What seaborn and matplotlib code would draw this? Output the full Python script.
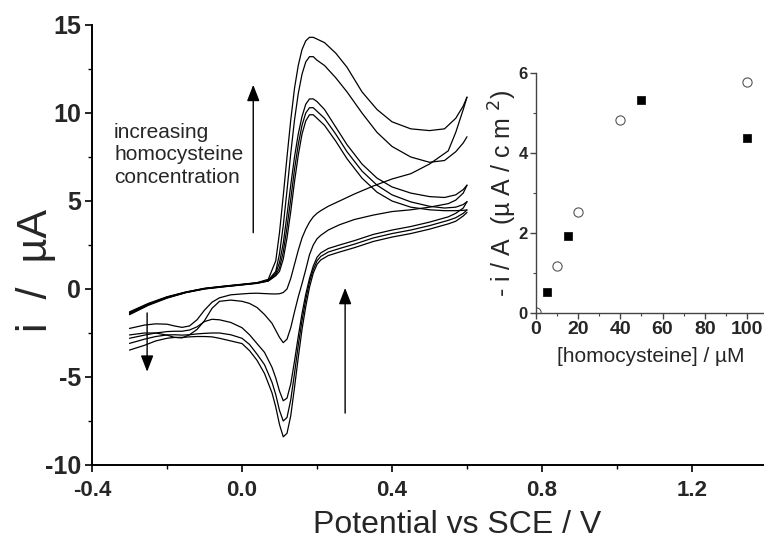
# ===================== LIBRARIES =====================
import matplotlib
matplotlib.use("Agg")
import matplotlib.pyplot as plt
import seaborn as sns
from matplotlib.ticker import MultipleLocator

# ===================== DATA =====================
# forward (upper) branches: potential grid (V) and currents (uA)
e_up = [-0.30, -0.25, -0.20, -0.15, -0.10, -0.05, 0.00, 0.04, 0.07, 0.09, 0.10,
        0.11, 0.12, 0.13, 0.14, 0.15, 0.16, 0.17, 0.18, 0.19, 0.20, 0.22, 0.25,
        0.28, 0.32, 0.36, 0.40, 0.45, 0.50, 0.54, 0.57, 0.59, 0.60]
up1 = [-1.30, -0.82, -0.44, -0.17, 0.04, 0.16, 0.27, 0.36, 0.55, 1.6, 3.2, 5.3,
       7.5, 9.6, 11.4, 12.7, 13.6, 14.1, 14.3, 14.3, 14.2, 14.0, 13.4, 12.6,
       11.2, 10.2, 9.5, 9.1, 9.0, 9.1, 9.7, 10.4, 10.9]
up2 = [-1.34, -0.85, -0.46, -0.18, 0.03, 0.15, 0.26, 0.35, 0.50, 1.0, 2.0, 3.6,
       5.6, 7.7, 9.6, 11.1, 12.2, 12.9, 13.2, 13.2, 13.0, 12.7, 12.0, 11.2,
       10.0, 8.9, 8.1, 7.5, 7.2, 7.3, 7.8, 8.3, 8.65]
up3 = [-1.38, -0.88, -0.48, -0.19, 0.02, 0.14, 0.25, 0.34, 0.48, 0.9, 1.5, 2.6,
       4.2, 5.9, 7.5, 8.8, 9.8, 10.5, 10.8, 10.8, 10.65, 10.2, 9.2, 8.2,
       7.1, 6.3, 5.8, 5.45, 5.25, 5.2, 5.35, 5.65, 5.9]
up4 = [-1.42, -0.90, -0.50, -0.20, 0.01, 0.13, 0.24, 0.33, 0.46, 0.8, 1.2, 2.1,
       3.5, 5.1, 6.8, 8.2, 9.3, 10.0, 10.3, 10.3, 10.1, 9.7, 8.8, 7.8,
       6.7, 5.9, 5.35, 4.95, 4.7, 4.6, 4.65, 4.8, 4.96]
up5 = [-1.46, -0.93, -0.52, -0.21, 0.00, 0.12, 0.23, 0.32, 0.45, 0.75, 1.0, 1.7,
       2.9, 4.4, 6.1, 7.6, 8.8, 9.55, 9.9, 9.9, 9.7, 9.3, 8.4, 7.4,
       6.3, 5.5, 5.0, 4.65, 4.5, 4.45, 4.45, 4.47, 4.49]

# reverse (lower) branches: potential grid (V) and currents (uA)
e_dn = [0.60, 0.59, 0.57, 0.55, 0.50, 0.45, 0.40, 0.35, 0.30, 0.26, 0.23, 0.21,
        0.20, 0.19, 0.18, 0.17, 0.16, 0.15, 0.14, 0.13, 0.12, 0.11, 0.10, 0.09,
        0.08, 0.06, 0.04, 0.02, 0.00, -0.03, -0.06, -0.08, -0.10, -0.12, -0.14,
        -0.16, -0.18, -0.20, -0.23, -0.26, -0.30]
dn1 = [10.9, 10.2, 8.9, 7.85, 7.1, 6.55, 6.25, 5.85, 5.4, 5.0, 4.7, 4.45,
       4.3, 4.1, 3.8, 3.4, 2.9, 2.2, 1.4, 0.6, 0.0, -0.2, -0.27, -0.28,
       -0.28, -0.26, -0.24, -0.25, -0.28, -0.33, -0.5, -0.75, -1.2, -1.75, -2.1,
       -2.18, -2.1, -2.0, -1.98, -2.05, -2.24]
dn2 = [5.9, 5.45, 5.05, 4.85, 4.65, 4.5, 4.4, 4.2, 3.95, 3.65, 3.35, 3.05,
       2.85, 2.5, 1.95, 1.1, 0.3, -0.45, -1.3, -2.2, -2.85, -3.05, -2.75, -2.35,
       -1.95, -1.45, -1.05, -0.82, -0.7, -0.63, -0.7, -1.1, -1.8, -2.3, -2.6,
       -2.78, -2.75, -2.62, -2.5, -2.5, -2.61]
dn3 = [4.96, 4.6, 4.3, 4.1, 3.8, 3.55, 3.35, 3.1, 2.75, 2.5, 2.3, 2.05,
       1.8, 1.3, 0.6, -0.3, -1.4, -2.7, -4.1, -5.4, -6.2, -6.35, -5.8, -5.05,
       -4.45, -3.6, -3.1, -2.6, -2.2, -1.9, -1.75, -1.72, -1.85, -2.15, -2.33,
       -2.4, -2.4, -2.42, -2.5, -2.62, -2.8]
dn4 = [4.49, 4.3, 4.05, 3.9, 3.6, 3.35, 3.15, 2.9, 2.55, 2.3, 2.1, 1.85,
       1.6, 1.1, 0.4, -0.6, -1.8, -3.2, -4.8, -6.3, -7.3, -7.5, -6.9, -6.0,
       -5.3, -4.3, -3.7, -3.15, -2.8, -2.6, -2.5, -2.5, -2.52, -2.55, -2.6,
       -2.62, -2.6, -2.61, -2.7, -2.85, -3.09]
dn5 = [4.35, 4.15, 3.85, 3.7, 3.4, 3.15, 2.95, 2.7, 2.35, 2.1, 1.9, 1.65,
       1.4, 0.9, 0.1, -1.0, -2.3, -3.9, -5.6, -7.2, -8.2, -8.4, -7.7, -6.7,
       -5.9, -4.8, -4.05, -3.5, -3.1, -2.95, -2.8, -2.72, -2.7, -2.7, -2.72,
       -2.75, -2.75, -2.8, -2.95, -3.2, -3.47]

# inset: homocysteine concentration (uM) vs -i/A (uA/cm2)
conc_sq = [5, 15, 50, 100]
resp_sq = [0.52, 1.93, 5.33, 4.37]
conc_circ = [0, 10, 20, 40, 100]
resp_circ = [0.03, 1.17, 2.53, 4.83, 5.77]

# ===================== STYLE =====================
sns.set_theme(style="ticks")
plt.rcParams["font.family"] = ["Liberation Sans", "DejaVu Sans"]

fig = plt.figure(figsize=(7.64, 5.54), dpi=100)
ax = fig.add_axes([92 / 764, 89 / 554, 675 / 764, 440 / 554])
ax.set_facecolor("none")

# ===================== MAIN CV PLOT =====================
for cur in [up1, up2, up3, up4, up5]:
    sns.lineplot(x=e_up, y=cur, ax=ax, color="black", lw=0.9,
                 sort=False, estimator=None, legend=False)
for cur in [dn1, dn2, dn3, dn4, dn5]:
    sns.lineplot(x=e_dn, y=cur, ax=ax, color="black", lw=0.9,
                 sort=False, estimator=None, legend=False)

ax.set_xlim(-0.4, 1.4)
ax.set_ylim(-10, 15)
ax.xaxis.set_minor_locator(MultipleLocator(0.2))
ax.yaxis.set_minor_locator(MultipleLocator(2.5))
ax.set_xticks([-0.4, 0.0, 0.4, 0.8, 1.2])
ax.set_xticklabels(["-0.4", "0.0", "0.4", "0.8", "1.2"])
ax.set_yticks([-10, -5, 0, 5, 10, 15])
ax.set_yticklabels(["-10", "-5", "0", "5", "10", "15"])
for s in ["top", "right"]:
    ax.spines[s].set_visible(False)
for s in ["left", "bottom"]:
    ax.spines[s].set_linewidth(1.4)
    ax.spines[s].set_color("black")
ax.tick_params(which="major", direction="out", length=5, width=1.2, color="black")
ax.tick_params(which="minor", direction="out", length=3, width=1.0, color="black")
ax.tick_params(axis="x", pad=6)
ax.tick_params(axis="y", pad=3)
for lab in ax.get_xticklabels():
    lab.set_fontweight("bold")
    lab.set_fontsize(16)
for lab in ax.get_yticklabels():
    lab.set_fontweight("bold")
    lab.set_fontsize(18)

fig.text(457 / 764, 1 - 525 / 554, "Potential vs SCE / V", ha="center",
         va="center", fontsize=23)
fig.text(36 / 764, 1 - 270 / 554, "i  /  \u00b5A", ha="center", va="center",
         rotation=90, fontsize=31)

ax.text(-0.341, 9.45, "increasing\nhomocysteine\nconcentration", ha="left",
        va="top", fontsize=15, linespacing=1.25)

arrow = dict(arrowstyle="-|>,head_length=0.9,head_width=0.35", color="black",
             lw=1.0, mutation_scale=11, shrinkA=0, shrinkB=0)
ax.annotate("", xy=(0.03, 11.6), xytext=(0.03, 3.2), arrowprops=arrow)
ax.annotate("", xy=(0.275, 0.06), xytext=(0.275, -7.05), arrowprops=arrow)
ax.annotate("", xy=(-0.253, -4.7), xytext=(-0.253, -1.36), arrowprops=arrow)

# ===================== INSET =====================
ins = fig.add_axes([536 / 764, 241 / 554, 232 / 764, 240 / 554])
ins.set_facecolor("none")
sns.scatterplot(x=conc_sq, y=resp_sq, ax=ins, marker="s", s=38, color="black",
                edgecolor="black", linewidth=0.5, legend=False)
sns.scatterplot(x=conc_circ, y=resp_circ, ax=ins, marker="o", s=44,
                color="white", edgecolor="#555555", linewidth=0.8, legend=False)
ins.set_xlim(0, 110)
ins.set_ylim(0, 6)
ins.set_xticks([0, 20, 40, 60, 80, 100])
ins.set_yticks([0, 2, 4, 6])
ins.xaxis.set_minor_locator(MultipleLocator(10))
ins.yaxis.set_minor_locator(MultipleLocator(1))
for s in ["top", "right"]:
    ins.spines[s].set_visible(False)
for s in ["left", "bottom"]:
    ins.spines[s].set_linewidth(1.0)
    ins.spines[s].set_color("#444444")
ins.tick_params(which="major", direction="out", length=4, width=1.0, color="#444444", pad=2)
ins.tick_params(which="minor", direction="out", length=2.5, width=0.8, color="#444444")
for lab in ins.get_xticklabels():
    lab.set_fontweight("bold")
    lab.set_fontsize(14)
for lab in ins.get_yticklabels():
    lab.set_fontweight("bold")
    lab.set_fontsize(12)

fig.text(651 / 764, 1 - 357 / 554, "[homocysteine] / \u00b5M", ha="center",
         va="center", fontsize=15)
fig.text(503 / 764, 1 - 193 / 554, "- i / A  (\u00b5 A / c m $^{2}$)",
         ha="center", va="center", rotation=90, fontsize=18)

fig.savefig("out.png", dpi=100)
